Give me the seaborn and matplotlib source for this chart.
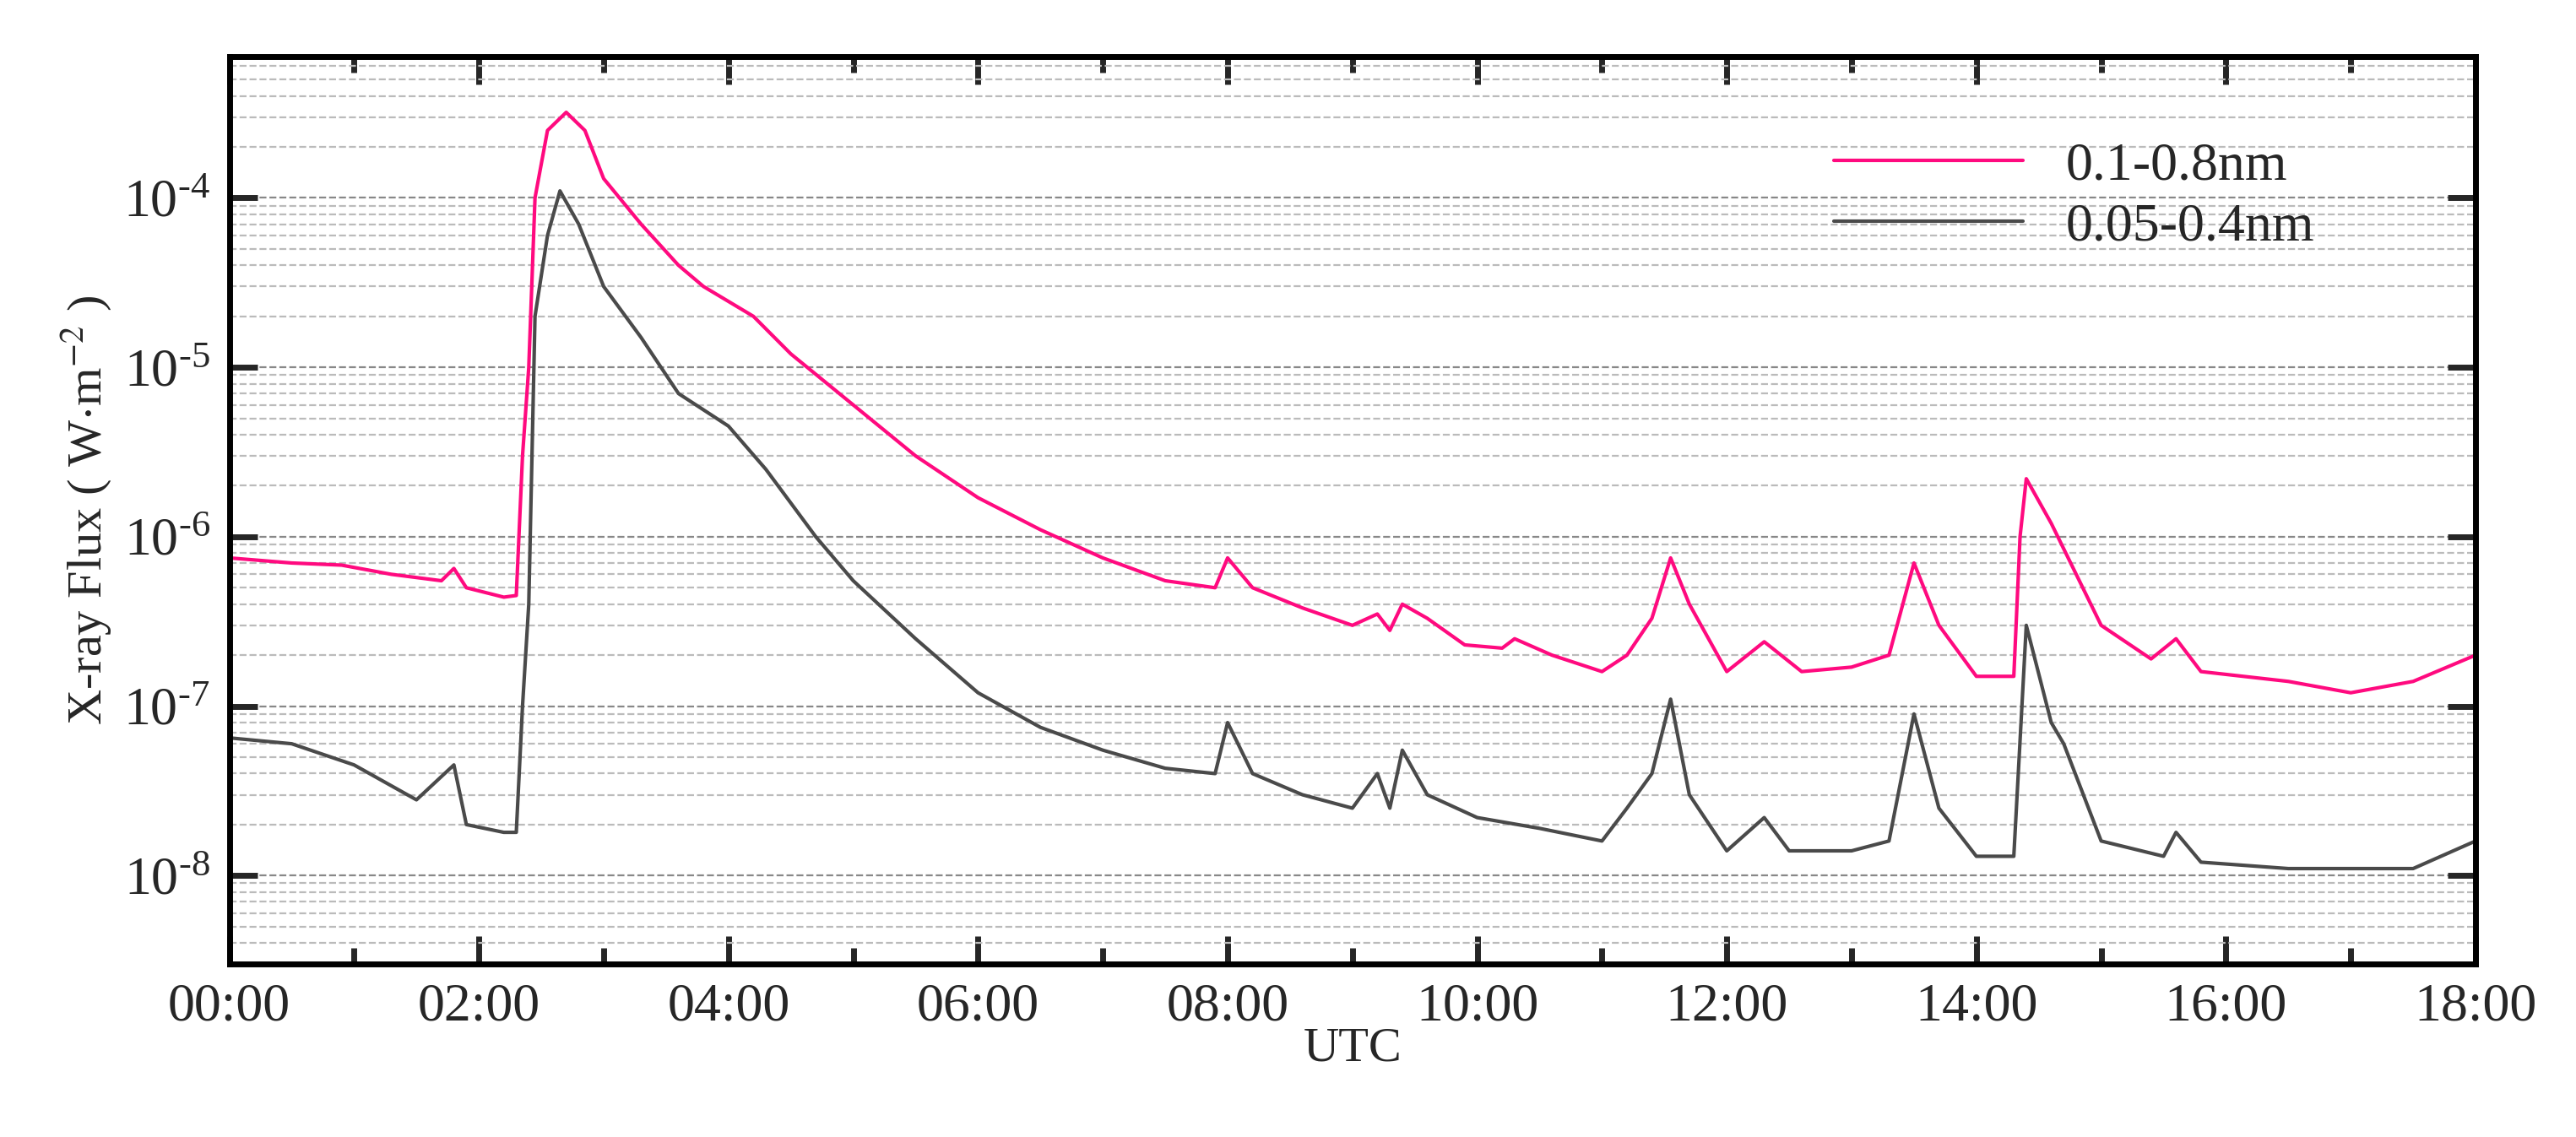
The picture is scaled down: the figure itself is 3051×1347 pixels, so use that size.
import numpy as np
import pandas as pd
import seaborn as sns
import matplotlib.pyplot as plt
from matplotlib.ticker import LogLocator, MultipleLocator, FixedLocator

# hours (UTC) and flux values
long_hours = [0, 0.5, 0.9, 1.3, 1.7, 1.8, 1.9, 2.2, 2.3, 2.35, 2.4, 2.45, 2.55, 2.7, 2.85, 3.0, 3.3, 3.6,
              3.8, 4.2, 4.5, 5.0, 5.5, 6.0, 6.5, 7.0, 7.5, 7.9, 8.0, 8.2, 8.6, 9.0, 9.2, 9.3, 9.4, 9.6,
              9.9, 10.2, 10.3, 10.6, 11.0, 11.2, 11.4, 11.55, 11.7, 12.0, 12.3, 12.6, 13.0, 13.3, 13.5,
              13.7, 14.0, 14.3, 14.35, 14.4, 14.6, 15.0, 15.4, 15.6, 15.8, 16.5, 17.0, 17.5, 18]
long_flux = [7.5e-7, 7e-7, 6.8e-7, 6e-7, 5.5e-7, 6.5e-7, 5e-7, 4.4e-7, 4.5e-7, 3e-6, 1e-5, 1e-4, 2.5e-4,
             3.2e-4, 2.5e-4, 1.3e-4, 7e-5, 4e-5, 3e-5, 2e-5, 1.2e-5, 6e-6, 3e-6, 1.7e-6, 1.1e-6, 7.5e-7,
             5.5e-7, 5e-7, 7.5e-7, 5e-7, 3.8e-7, 3e-7, 3.5e-7, 2.8e-7, 4e-7, 3.3e-7, 2.3e-7, 2.2e-7,
             2.5e-7, 2e-7, 1.6e-7, 2e-7, 3.3e-7, 7.5e-7, 4e-7, 1.6e-7, 2.4e-7, 1.6e-7, 1.7e-7, 2e-7,
             7e-7, 3e-7, 1.5e-7, 1.5e-7, 1e-6, 2.2e-6, 1.2e-6, 3e-7, 1.9e-7, 2.5e-7, 1.6e-7, 1.4e-7,
             1.2e-7, 1.4e-7, 2e-7]

short_hours = [0, 0.5, 1.0, 1.5, 1.8, 1.9, 2.2, 2.3, 2.35, 2.4, 2.45, 2.55, 2.65, 2.8, 3.0, 3.3, 3.6, 4.0,
               4.3, 4.7, 5.0, 5.5, 6.0, 6.5, 7.0, 7.5, 7.9, 8.0, 8.2, 8.6, 9.0, 9.2, 9.3, 9.4, 9.6, 10.0,
               10.5, 11.0, 11.2, 11.4, 11.55, 11.7, 12.0, 12.3, 12.5, 13.0, 13.3, 13.5, 13.7, 14.0, 14.3,
               14.4, 14.6, 14.7, 15.0, 15.5, 15.6, 15.8, 16.5, 17.5, 18]
short_flux = [6.5e-8, 6e-8, 4.5e-8, 2.8e-8, 4.5e-8, 2e-8, 1.8e-8, 1.8e-8, 1e-7, 4e-7, 2e-5, 6e-5, 1.1e-4,
              7e-5, 3e-5, 1.5e-5, 7e-6, 4.5e-6, 2.5e-6, 1e-6, 5.5e-7, 2.5e-7, 1.2e-7, 7.5e-8, 5.5e-8,
              4.3e-8, 4e-8, 8e-8, 4e-8, 3e-8, 2.5e-8, 4e-8, 2.5e-8, 5.5e-8, 3e-8, 2.2e-8, 1.9e-8, 1.6e-8,
              2.5e-8, 4e-8, 1.1e-7, 3e-8, 1.4e-8, 2.2e-8, 1.4e-8, 1.4e-8, 1.6e-8, 9e-8, 2.5e-8, 1.3e-8,
              1.3e-8, 3e-7, 8e-8, 6e-8, 1.6e-8, 1.3e-8, 1.8e-8, 1.2e-8, 1.1e-8, 1.1e-8, 1.6e-8]

sns.set_style('white')
plt.rcParams['font.family'] = ['Liberation Serif', 'DejaVu Serif']
plt.rcParams['mathtext.fontset'] = 'stix'
plt.rcParams['axes.unicode_minus'] = False

df = pd.concat([
    pd.DataFrame({'hour': long_hours, 'flux': long_flux, 'band': '0.1-0.8nm'}),
    pd.DataFrame({'hour': short_hours, 'flux': short_flux, 'band': '0.05-0.4nm'}),
])

fig = plt.figure(figsize=(15.255, 6.735), dpi=200)
ax = fig.add_axes([0.089, 0.152, 0.872, 0.798])
sns.lineplot(data=df, x='hour', y='flux', hue='band', palette=['#ff0a7f', '#4a4a4a'],
             linewidth=1.5, ax=ax)
ax.set_yscale('log')
ax.set_xlim(0, 18)
ax.set_ylim(3e-9, 6.8e-4)

ax.yaxis.set_major_locator(FixedLocator([1e-8, 1e-7, 1e-6, 1e-5, 1e-4]))
ax.yaxis.set_minor_locator(LogLocator(base=10, subs=np.arange(2, 10)))
ax.set_yticklabels(['10$^{\\mathregular{\u2010%d}}$' % k for k in [8, 7, 6, 5, 4]])
ax.set_xticks(range(0, 19, 2))
ax.set_xticklabels(['%02d:00' % h for h in range(0, 19, 2)])
ax.xaxis.set_minor_locator(MultipleLocator(1))

ax.grid(True, which='major', axis='y', linestyle='--', color='#888888', linewidth=0.8)
ax.grid(True, which='minor', axis='y', linestyle='--', color='#bbbbbb', linewidth=0.8)
ax.tick_params(which='both', direction='in', top=True, right=True, bottom=True, left=True,
               labelsize=23, width=2.5)
ax.tick_params(which='major', length=12, pad=8)
ax.tick_params(which='minor', length=7)
ax.tick_params(axis='y', which='minor', length=0)
for s in ax.spines.values():
    s.set_linewidth(2.5)
    s.set_color('black')

ax.set_xlabel('UTC', fontsize=21, labelpad=-2)
ax.set_ylabel('X-ray Flux ( W$\\cdot$m$^{-2}$ )', fontsize=21)
ax.legend(title=None, loc='upper right', bbox_to_anchor=(0.95, 0.96), frameon=False,
          fontsize=23, handlelength=3.5, labelspacing=0.2)

fig.savefig('out.png', dpi=200)
